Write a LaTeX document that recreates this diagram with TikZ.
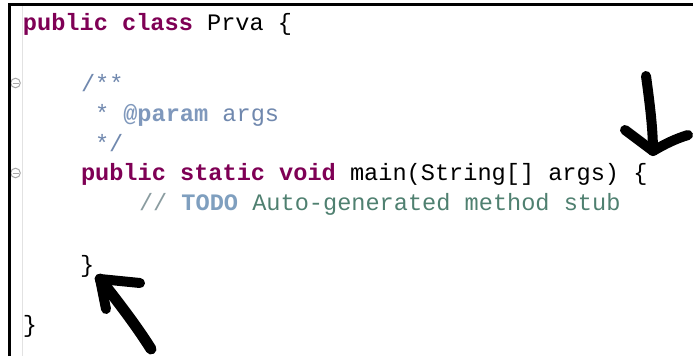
\documentclass[tikz,border=0pt]{standalone}
\usepackage{fontspec}
\newfontfamily\codefont{Liberation Mono}
\definecolor{kw}{HTML}{7F0055}
\definecolor{jdoc}{HTML}{7088AE}
\definecolor{jtag}{HTML}{7F98BC}
\definecolor{cmtslash}{HTML}{8A9CA0}
\definecolor{cmt}{HTML}{4F8070}
\definecolor{todo}{HTML}{7F9FBF}
\definecolor{gutter}{HTML}{E2E2E2}
\definecolor{foldc}{HTML}{A8A8A8}
\begin{document}
\begin{tikzpicture}[x=1pt,y=-1pt,
  code/.style={anchor=base west,inner sep=0pt,outer sep=0pt,
    font=\codefont\fontsize{23.6}{28}\selectfont,text=black},
  pen/.style={line width=10pt,line cap=round,line join=round,draw=black},
  border/.style={line width=3pt,draw=black},
  foldmark/.style={draw=foldc,line width=1pt,fill=white}]
\useasboundingbox (0,0) rectangle (693,356);
\fill[white] (0,0) rectangle (693,356);
% gutter
\draw[gutter,line width=1.2pt] (22.5,5) -- (22.5,356);
% fold markers
\draw[foldmark] (15.5,83) circle (4.8);
\draw[foldc,line width=1pt] (12.5,83) -- (18.5,83);
\draw[foldmark] (15.5,173) circle (4.8);
\draw[foldc,line width=1pt] (12.5,173) -- (18.5,173);
% border
\draw[border] (9.5,356) -- (9.5,4) -- (693,4);
% code lines
\node[code] (l0) at (23,30) {{\bfseries\color{kw}public class} Prva \{};
\node[code] (l2) at (81,91) {\color{jdoc}/**};
\node[code] (l3) at (95,121) {\color{jdoc}*\ {\bfseries\color{jtag}@param}\ args};
\node[code] (l4) at (95,151) {\color{jdoc}*/};
\node[code] (l5) at (81,180) {{\bfseries\color{kw}public static void} main(String[] args) \{};
\node[code] (l6) at (139,210) {{\color{cmtslash}//}\ {\bfseries\color{todo}TODO}\ {\color{cmt}Auto-generated method stub}};
\node[code] (l8) at (80,272) {\}};
\node[code] (l10) at (23,332.5) {\}};
% hand-drawn arrows
\coordinate (a1t) at (646,76);
\coordinate (a1h) at (653,151);
\coordinate (a1l) at (625,130);
\coordinate (a1r) at (688,135);
\draw[pen] (a1t) .. controls (650,105) and (653,130) .. (a1h);
\draw[pen] (a1l) -- (a1h) .. controls (665,144) and (675,139) .. (a1r);
\coordinate (a2t) at (151,349);
\coordinate (a2h) at (100,279);
\coordinate (a2r) at (140,283);
\coordinate (a2l) at (106,309);
\draw[pen,line width=11pt] (a2t) .. controls (136,325) and (115,298) .. (a2h);
\draw[pen] (a2r) -- (a2h) -- (a2l);
\end{tikzpicture}
\end{document}
